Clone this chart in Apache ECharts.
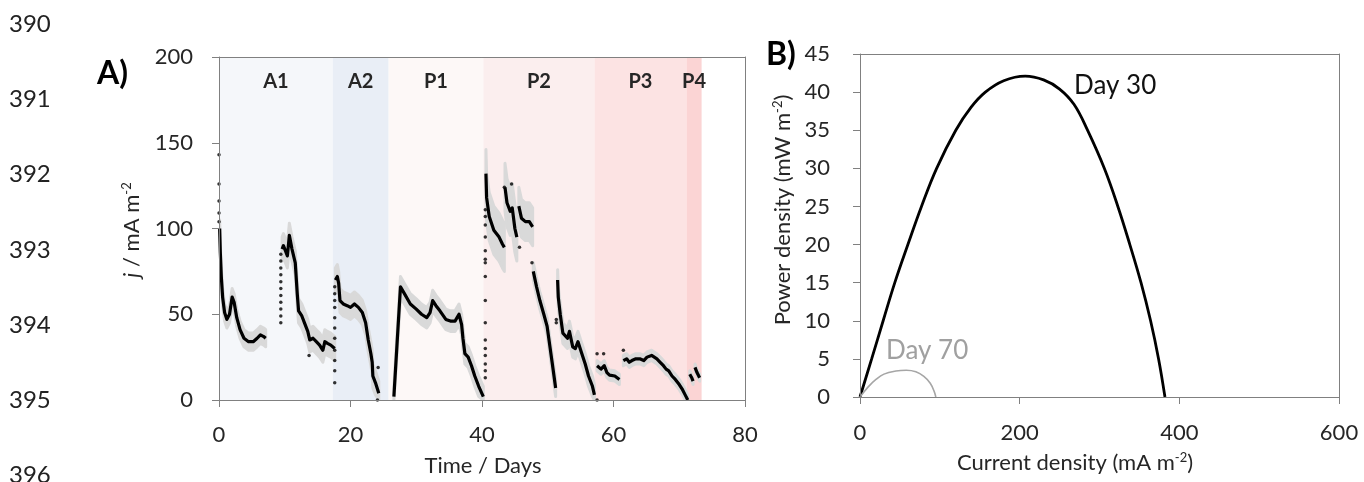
<!DOCTYPE html>
<html lang="en">
<head>
  <meta charset="utf-8">
</head>
<body style="margin: 0; background: #fff">
  <div id="container" style="width: 1364px; height: 482px"></div>

  <script type="text/javascript" src="https://cdn.jsdelivr.net/npm/echarts@6/dist/echarts.min.js"></script>
  <script type="text/javascript">
    // --- data ---
    var lineNumbers = ['390', '391', '392', '393', '394', '395', '396'];

    var phaseNames = ['A1', 'A2', 'P1', 'P2', 'P3', 'P4'];
    var phaseStart = [0, 17.3, 25.8, 40.2, 57.1, 71.1];
    var phaseEnd = [17.3, 25.8, 40.2, 57.1, 71.1, 73.4];
    var phaseColors = ['#f5f7fa', '#e9eef6', '#fdf8f7', '#fbeeee', '#fce3e3', '#fbd4d4'];

    // current density j (mA m-2) vs time (days), continuous pieces
    var traceSegments = [
      [[0.1, 100], [0.2, 86], [0.35, 72], [0.55, 60], [0.85, 51], [1.2, 47], [1.6, 50], [2.0, 60], [2.3, 57], [2.7, 48], [3.2, 41], [3.8, 36], [4.5, 34], [5.2, 34], [5.8, 36], [6.3, 38], [6.8, 37], [7.1, 36]],
      [[9.6, 88], [9.8, 90], [10.1, 87], [10.4, 84], [10.7, 96], [11.1, 88], [11.6, 80], [11.9, 62], [12.1, 52], [12.6, 49], [13.0, 45], [13.5, 40], [13.8, 35], [14.3, 36], [14.8, 34], [15.3, 32], [15.8, 29], [16.1, 34], [16.5, 33], [17.0, 32], [17.6, 30]],
      [[17.7, 70], [18.0, 72], [18.2, 68], [18.4, 58], [18.9, 56], [19.5, 55], [20.0, 54], [20.6, 56], [21.2, 54], [21.8, 51], [22.3, 45], [22.7, 35], [23.1, 27], [23.3, 22], [23.4, 14], [23.8, 10], [24.3, 4]],
      [[26.6, 2], [27.1, 34], [27.6, 66], [28.2, 62], [29.1, 56], [30.0, 53], [30.8, 50], [31.6, 48], [32.1, 51], [32.5, 58], [33.0, 55], [33.6, 52], [34.5, 47], [35.2, 46], [35.9, 46], [36.5, 50], [36.9, 44], [37.1, 36], [37.4, 27], [37.9, 25], [38.4, 20], [38.9, 14], [39.5, 8], [40.2, 2]],
      [[40.6, 132], [40.7, 118], [41.1, 107], [41.8, 99], [42.6, 95], [43.1, 91], [43.4, 89]],
      [[43.5, 124], [43.8, 115], [44.3, 110], [44.6, 112], [45.0, 100], [45.3, 95]],
      [[45.6, 113], [46.0, 106], [46.6, 104], [47.2, 104], [47.7, 101]],
      [[47.8, 75], [48.3, 66], [48.8, 58], [49.4, 50], [49.9, 43], [50.3, 32], [50.7, 21], [51.2, 7]],
      [[51.5, 70], [51.6, 60], [51.9, 50], [52.3, 39], [53.0, 36], [53.3, 40], [53.8, 31], [54.2, 30], [54.6, 34], [55.1, 28], [55.7, 21], [56.2, 14], [56.8, 8], [57.1, 3]],
      [[57.5, 20], [58.1, 18], [58.6, 20], [59.0, 16], [59.4, 14.5], [60.2, 14], [60.9, 12]],
      [[61.5, 23], [62.0, 24], [62.4, 22], [62.8, 23], [63.4, 24], [64.0, 24], [64.6, 23], [65.1, 25], [65.8, 26], [66.2, 25], [66.6, 24], [67.1, 22], [67.6, 20], [68.0, 18], [68.4, 17], [68.9, 14], [69.4, 12], [70.0, 9], [70.5, 6], [70.9, 3], [71.3, 0]],
      [[71.6, 15], [71.9, 13], [72.1, 11]],
      [[72.4, 19], [72.7, 16], [73.1, 13]]
    ];
    // half-width of the grey spread around each piece (mA m-2)
    var traceSpread = [5, 7, 7, 6, 14, 14, 11, 5, 6, 3, 3, 2, 2];

    // isolated sample points (vertical runs when the signal restarts)
    var traceDots = [
      [0, 143], [0, 126], [0, 116], [0, 109], [0, 104],
      [9.4, 45], [9.4, 49], [9.4, 53], [9.4, 57], [9.4, 61], [9.4, 65], [9.4, 69], [9.4, 73], [9.4, 77], [9.4, 81], [9.4, 85],
      [13.7, 26],
      [17.6, 10], [17.6, 17], [17.6, 23], [17.6, 29], [17.6, 36], [17.6, 42], [17.6, 48], [17.6, 54], [17.6, 58], [17.6, 62], [17.6, 66],
      [24.1, 0], [24.2, 19],
      [40.5, 13], [40.5, 17], [40.5, 21], [40.5, 26], [40.5, 30], [40.5, 35], [40.5, 45], [40.5, 58], [40.5, 72], [40.5, 80], [40.5, 82], [40.5, 87], [40.5, 95], [40.5, 102], [40.5, 107], [40.5, 111],
      [43.4, 124], [44.5, 126], [45.7, 89], [47.6, 80],
      [51.3, 47], [51.3, 45],
      [57.5, 0], [57.5, 27], [58.5, 27], [61.5, 29]
    ];

    // power density (mW m-2) vs current density (mA m-2)
    var day30 = [[0, 0], [14.6, 5], [29, 10], [43.6, 15], [60, 20], [77, 25], [96, 30], [120, 35], [139, 38], [157, 40], [180, 41.5], [207, 42.1], [230, 41.6], [250, 40.4], [268, 38.4], [285, 35], [306, 30], [323, 25], [338, 20], [352, 15], [364, 10], [374, 5], [382, 0]];
    var day70 = [[0, 0], [10, 1.3], [20, 2.3], [30, 3.0], [45, 3.4], [58, 3.5], [70, 3.3], [80, 2.7], [88, 1.8], [93, 0.7], [95, 0]];

    var xTicksA = [0, 80, 20];
    var yTicksA = [0, 200, 50];
    var xTicksB = [0, 600, 200];
    var yTicksB = [0, 45, 5];

    // --- chart ---
    var FONT = 'Lato';
    var TXT = '#262626';
    var AXC = '#808080';

    var dom = document.getElementById('container');
    var myChart = echarts.init(dom, null, { renderer: 'canvas' });

    function mainAxis(ticks, pos, grid, margin) {
      return {
        type: 'value', gridIndex: grid, position: pos,
        min: ticks[0], max: ticks[1], interval: ticks[2], z: 5,
        axisLine: { show: true, onZero: false, lineStyle: { color: AXC, width: 1 } },
        axisTick: { show: true, inside: false, length: 7, lineStyle: { color: AXC } },
        axisLabel: { color: TXT, fontFamily: FONT, fontSize: 22, margin: margin },
        splitLine: { show: false }
      };
    }
    function frameAxis(ticks, pos, grid) {
      return {
        type: 'value', gridIndex: grid, position: pos,
        min: ticks[0], max: ticks[1], z: 5,
        axisLine: { show: true, onZero: false, lineStyle: { color: AXC, width: 1 } },
        axisTick: { show: false }, axisLabel: { show: false }, splitLine: { show: false }
      };
    }

    var areas = phaseNames.map(function (n, i) {
      return [
        { name: n, xAxis: phaseStart[i], itemStyle: { color: phaseColors[i] } },
        { xAxis: phaseEnd[i] }
      ];
    });

    var series = [];
    // background phases
    series.push({
      type: 'line', data: [], silent: true,
      markArea: {
        silent: true,
        label: {
          show: true, position: 'insideTop', distance: 15,
          fontFamily: FONT, fontWeight: 'bold', fontSize: 20, color: TXT
        },
        data: areas
      }
    });
    // grey spread around each piece, as a polygon through the axis scales
    series.push({
      type: 'custom', silent: true, z: 2, clip: true,
      data: traceSegments.map(function (seg, i) { return [seg[0][0], seg[0][1], i]; }),
      encode: { x: 0, y: 1 },
      renderItem: function (params, api) {
        var i = api.value(2);
        var seg = traceSegments[i];
        var s = traceSpread[i];
        var up = seg.map(function (p) { return api.coord([p[0], Math.min(200, p[1] + s)]); });
        var lo = seg.map(function (p) { return api.coord([p[0], Math.max(0, p[1] - s)]); }).reverse();
        return {
          type: 'polygon',
          shape: { points: up.concat(lo), smooth: 0 },
          style: { fill: '#d9d9d9', stroke: '#d9d9d9', lineWidth: 3, lineJoin: 'round' }
        };
      }
    });
    traceSegments.forEach(function (seg) {
      series.push({
        type: 'line', data: seg, symbol: 'none', silent: true, z: 3,
        lineStyle: { color: '#000', width: 3.2, join: 'round' }
      });
    });
    series.push({
      type: 'scatter', data: traceDots, symbolSize: 3.5, z: 3,
      itemStyle: { color: '#000' }
    });
    series.push({
      type: 'line', xAxisIndex: 2, yAxisIndex: 2, data: day30, symbol: 'none', smooth: 0.4,
      lineStyle: { color: '#000', width: 2.8 }
    });
    series.push({
      type: 'line', xAxisIndex: 2, yAxisIndex: 2, data: day70, symbol: 'none', smooth: 0.4,
      lineStyle: { color: '#a6a6a6', width: 1.6 }
    });

    var lnY = [24, 99, 174, 250, 325, 400, 475];
    var graphics = lineNumbers.map(function (t, i) {
      return {
        type: 'text', x: 9, y: lnY[i],
        style: { text: t, fontFamily: FONT, fontSize: 24, fill: '#222', verticalAlign: 'middle' }
      };
    });
    graphics.push(
      { type: 'text', x: 97, y: 74, style: { text: 'A)', fontFamily: FONT, fontWeight: 'bold', fontSize: 32, fill: '#000', verticalAlign: 'middle' } },
      { type: 'text', x: 766, y: 55, style: { text: 'B)', fontFamily: FONT, fontWeight: 'bold', fontSize: 32, fill: '#000', verticalAlign: 'middle' } },
      {
        type: 'text', x: 132, y: 230, rotation: Math.PI / 2,
        style: {
          text: '{i|j}{n| / mA m}{s|-2}', align: 'center', verticalAlign: 'middle',
          rich: {
            i: { fontFamily: FONT, fontSize: 22, fontStyle: 'italic', fill: TXT, lineHeight: 24 },
            n: { fontFamily: FONT, fontSize: 22, fill: TXT, lineHeight: 24 },
            s: { fontFamily: FONT, fontSize: 13, fill: TXT, lineHeight: 13, verticalAlign: 'top' }
          }
        }
      },
      { type: 'text', x: 483, y: 466, style: { text: 'Time / Days', fontFamily: FONT, fontSize: 22, fill: TXT, align: 'center', verticalAlign: 'middle' } },
      {
        type: 'text', x: 783, y: 210, rotation: Math.PI / 2,
        style: {
          text: '{n|Power density (mW m}{s|-2}{n|)}', align: 'center', verticalAlign: 'middle',
          rich: {
            n: { fontFamily: FONT, fontSize: 22, fill: TXT, lineHeight: 24 },
            s: { fontFamily: FONT, fontSize: 13, fill: TXT, lineHeight: 13, verticalAlign: 'top' }
          }
        }
      },
      {
        type: 'text', x: 1075, y: 463,
        style: {
          text: '{n|Current density (mA m}{s|-2}{n|)}', align: 'center', verticalAlign: 'middle',
          rich: {
            n: { fontFamily: FONT, fontSize: 22, fill: TXT, lineHeight: 24 },
            s: { fontFamily: FONT, fontSize: 13, fill: TXT, lineHeight: 13, verticalAlign: 'top' }
          }
        }
      },
      { type: 'text', x: 1074, y: 86, style: { text: 'Day 30', fontFamily: FONT, fontSize: 26, fill: '#111', verticalAlign: 'middle' } },
      { type: 'text', x: 886, y: 351, style: { text: 'Day 70', fontFamily: FONT, fontSize: 26, fill: '#a0a0a0', verticalAlign: 'middle' } }
    );

    var option = {
      animation: false,
      backgroundColor: '#fff',
      grid: [
        { left: 219, top: 57, width: 526, height: 343 },
        { left: 860, top: 54, width: 479, height: 343 }
      ],
      xAxis: [
        mainAxis(xTicksA, 'bottom', 0, 24),
        frameAxis(xTicksA, 'top', 0),
        mainAxis(xTicksB, 'bottom', 1, 25),
        frameAxis(xTicksB, 'top', 1)
      ],
      yAxis: [
        mainAxis(yTicksA, 'left', 0, 26),
        frameAxis(yTicksA, 'right', 0),
        mainAxis(yTicksB, 'left', 1, 30),
        frameAxis(yTicksB, 'right', 1)
      ],
      series: series,
      graphic: graphics
    };

    myChart.setOption(option);
    window.addEventListener('resize', myChart.resize);
  </script>
</body>
</html>
